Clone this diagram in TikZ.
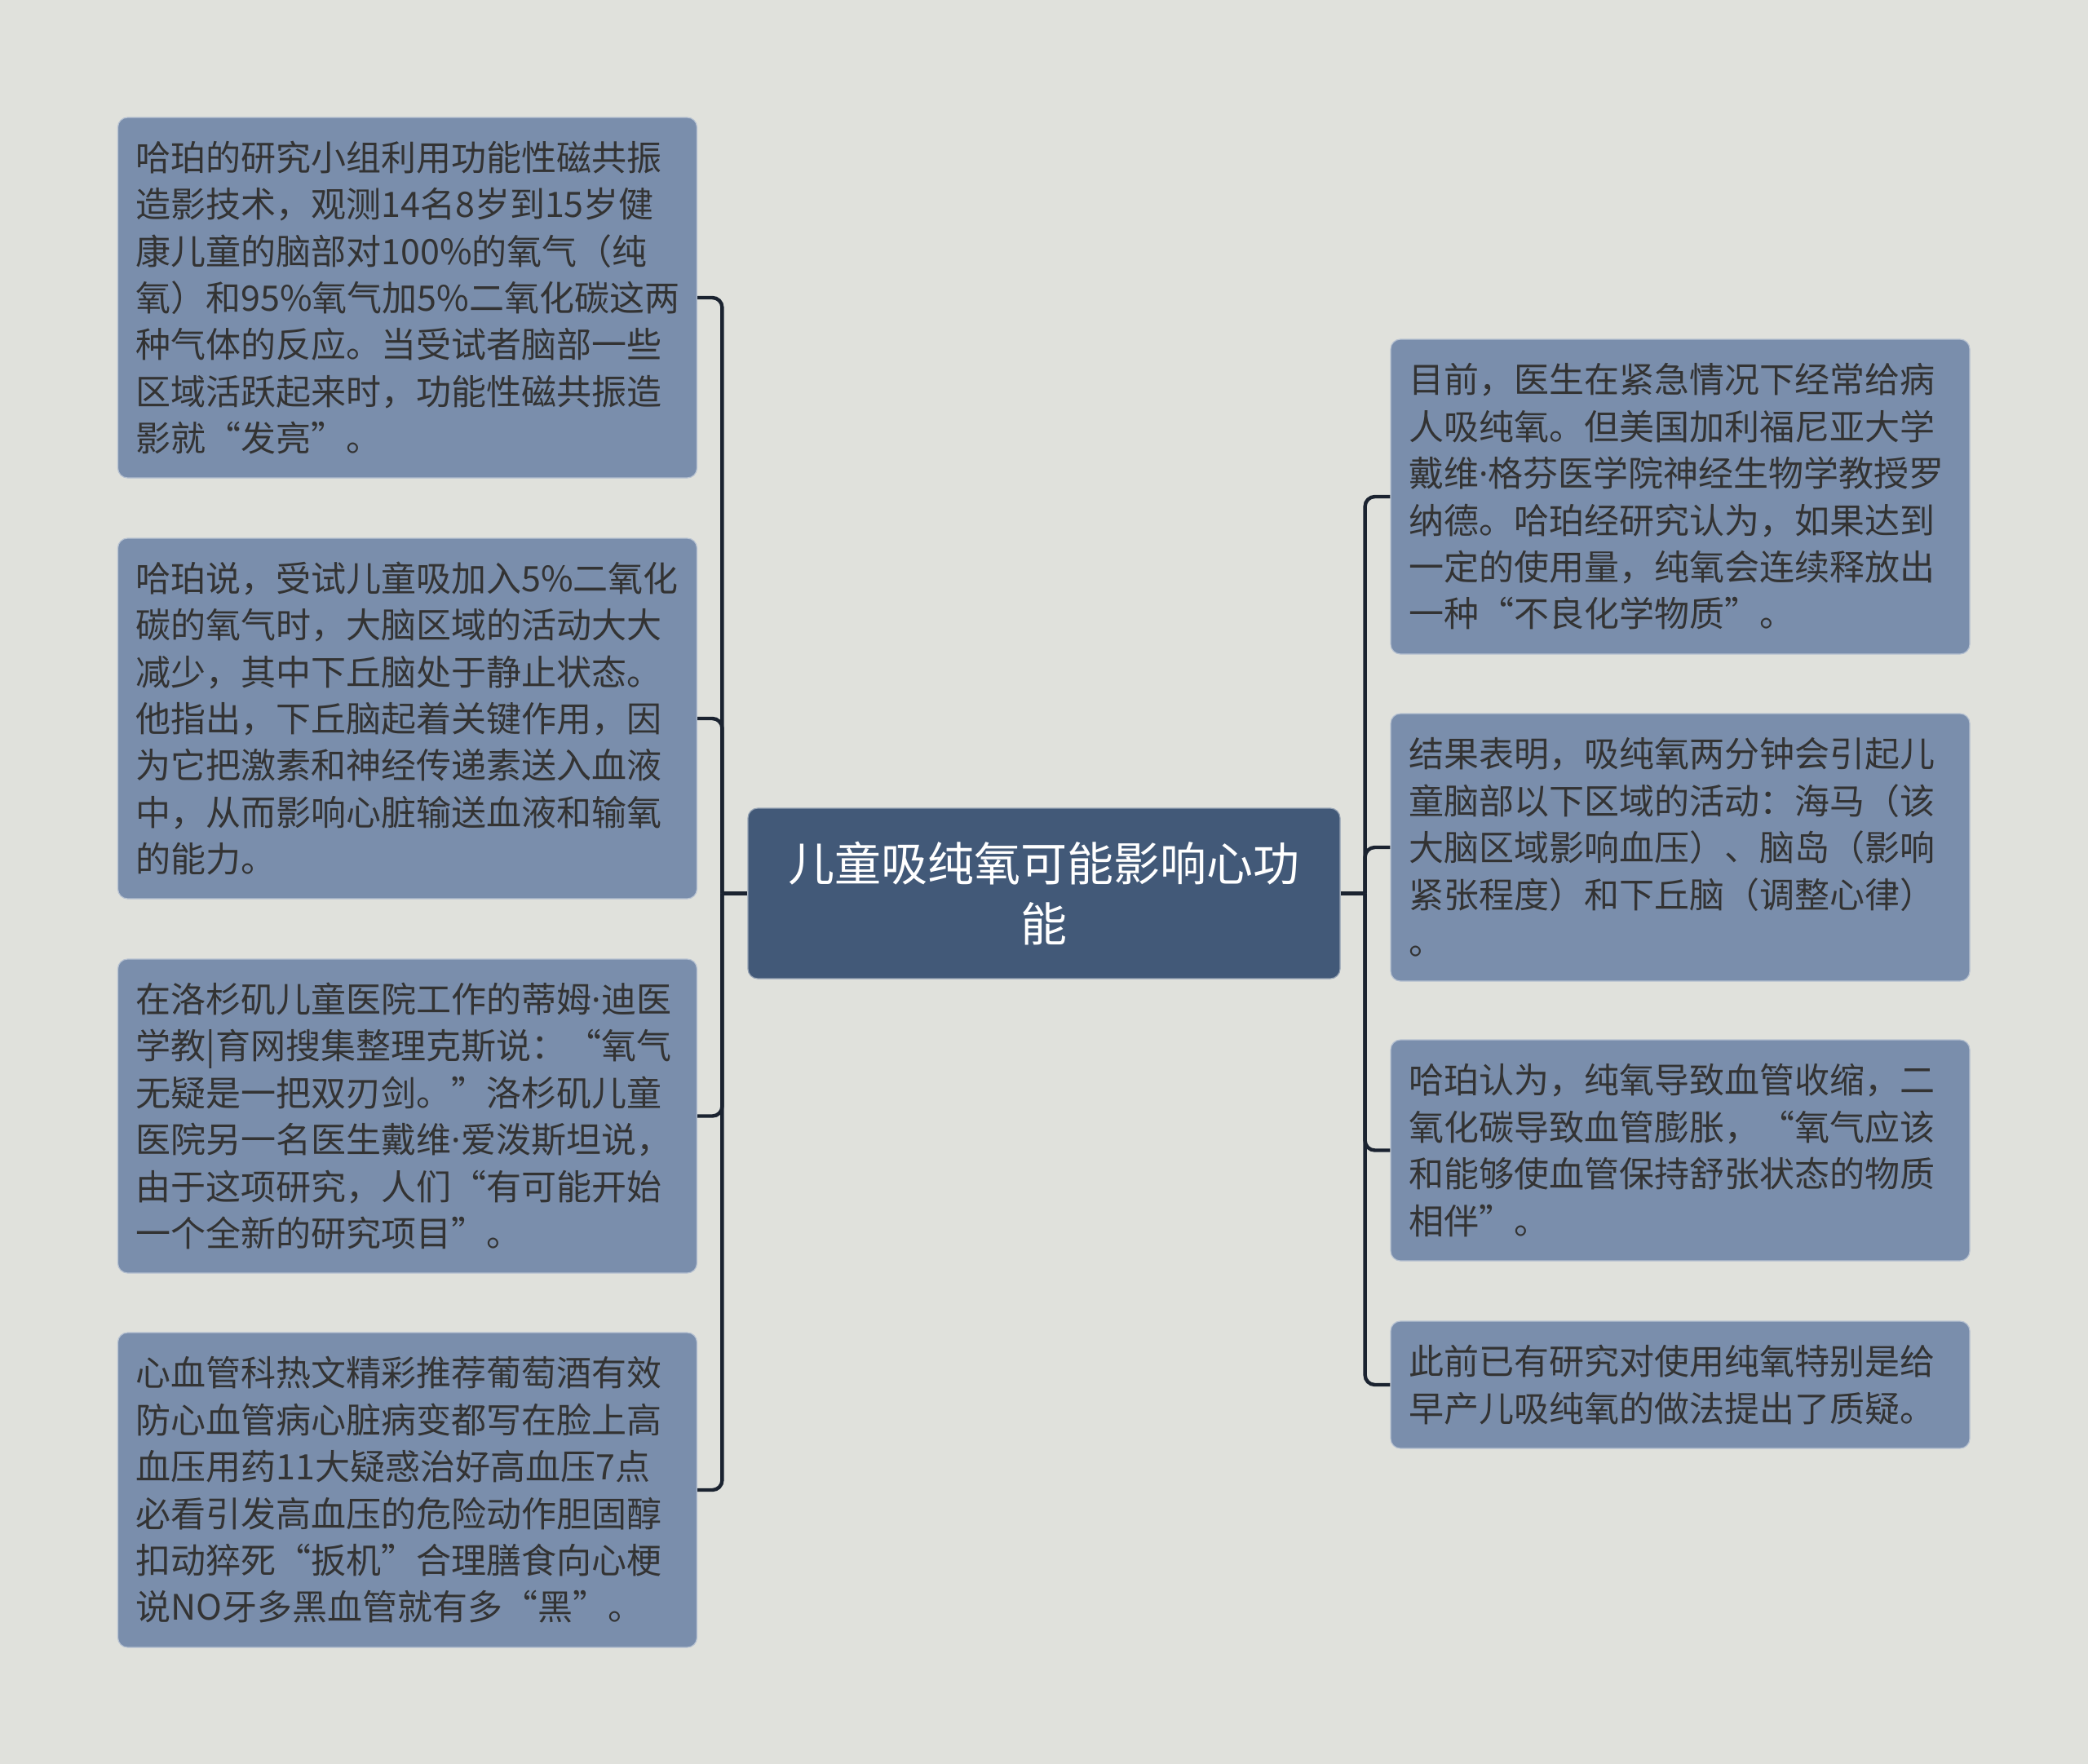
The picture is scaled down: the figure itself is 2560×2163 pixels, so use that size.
\documentclass[tikz,border=0pt]{standalone}
\usepackage{fontspec}
\setmainfont{Noto Sans CJK SC}
\newfontfamily\latinf{Noto Sans}
\newcommand{\ptdot}{{\latinf ·}}
\usetikzlibrary{positioning}
\definecolor{bgc}{HTML}{E0E1DC}
\definecolor{leafc}{HTML}{7A8EAC}
\definecolor{rootc}{HTML}{425978}
\definecolor{linec}{HTML}{1B2330}
\definecolor{textc}{HTML}{333333}

\begin{document}
\begin{tikzpicture}[x=0.5pt, y=-0.5pt,
  leaf/.style={draw=leafc!55!white, line width=0.6pt, fill=leafc, rounded corners=6pt,
    text=textc, text width=333pt, inner xsep=11pt, inner ysep=0pt, align=left,
    font=\fontsize{21.5pt}{28.7pt}\selectfont},
  root/.style={draw=rootc!55!white, line width=0.6pt, fill=rootc, rounded corners=6pt,
    text=white, minimum width=363pt, minimum height=104.5pt, align=center,
    font=\fontsize{28.5pt}{36.8pt}\selectfont},
  link/.style={draw=linec, line width=2.2pt, rounded corners=6pt}]
  \fill[bgc] (0,0) rectangle (2560,2163);
  \useasboundingbox (0,0) rectangle (2560,2163);

  \node[root] (root) at (1280,1095.5) {儿童吸纯氧可能影响心功\\能};

  % left side
  \node[leaf, minimum height=221pt] (l1) at (499.5,365) {哈珀的研究小组利用功能性磁共振\\造影技术，观测14名8岁到15岁健\\康儿童的脑部对100\%的氧气（纯\\氧）和95\%氧气加5\%二氧化碳这两\\种气体的反应。当受试者脑部一些\\区域活跃起来时，功能性磁共振造\\影就“发亮”。};
  \node[leaf, minimum height=221pt] (l2) at (499.5,881) {哈珀说，受试儿童吸加入5\%二氧化\\碳的氧气时，大脑区域的活动大大\\减少，其中下丘脑处于静止状态。\\他指出，下丘脑起着关键作用，因\\为它把激素和神经传递素送入血液\\中，从而影响心脏输送血液和输氧\\的能力。};
  \node[leaf, minimum height=192.5pt] (l3) at (499.5,1368.5) {在洛杉矶儿童医院工作的蒂姆\ptdot 迪医\\学教|育网搜集整理克斯说：“氧气\\无疑是一把双刃剑。”洛杉矶儿童\\医院另一名医生戴维\ptdot 爱泼斯坦说，\\由于这项研究，人们“有可能开始\\一个全新的研究项目”。};
  \node[leaf, minimum height=193pt] (l4) at (499.5,1827) {心血管科热文精彩推荐葡萄酒有效\\防心血管病心脏病变都写在脸上高\\血压用药11大疑惑治好高血压7点\\必看引发高血压的危险动作胆固醇\\扣动猝死“扳机”合理膳食向心梗\\说NO牙多黑血管就有多“黑”。};

  % right side
  \node[leaf, minimum height=193pt] (r1) at (2060,609) {目前，医生在紧急情况下经常给病\\人吸纯氧。但美国加利福尼亚大学\\戴维\ptdot 格芬医学院神经生物学教授罗\\纳德。哈珀经研究认为，如果达到\\一定的使用量，纯氧会连续释放出\\一种“不良化学物质”。};
  \node[leaf, minimum height=164pt] (r2) at (2060,1039) {结果表明，吸纯氧两分钟会引起儿\\童脑部以下区域的活动：海马（该\\大脑区域影响血压）、脑岛（影响\\紧张程度）和下丘脑（调整心律）\\。};
  \node[leaf, minimum height=135.5pt] (r3) at (2060,1410.5) {哈珀认为，纯氧导致血管收缩，二\\氧化碳导致血管膨胀，“氧气应该\\和能够使血管保持舒张状态的物质\\相伴”。};
  \node[leaf, minimum height=78pt] (r4) at (2060,1698) {此前已有研究对使用纯氧特别是给\\早产儿吸纯氧的做法提出了质疑。};

  \coordinate (jl) at ([xshift=-15.5pt]root.west);
  \coordinate (jr) at ([xshift=15pt]root.east);
  \draw[link] (root.west) -- (jl);
  \draw[link] (root.east) -- (jr);
  \foreach \n in {l1,l2,l3,l4} \draw[link] (jl) |- (\n.east);
  \foreach \n in {r1,r2,r3,r4} \draw[link] (jr) |- (\n.west);
\end{tikzpicture}
\end{document}
